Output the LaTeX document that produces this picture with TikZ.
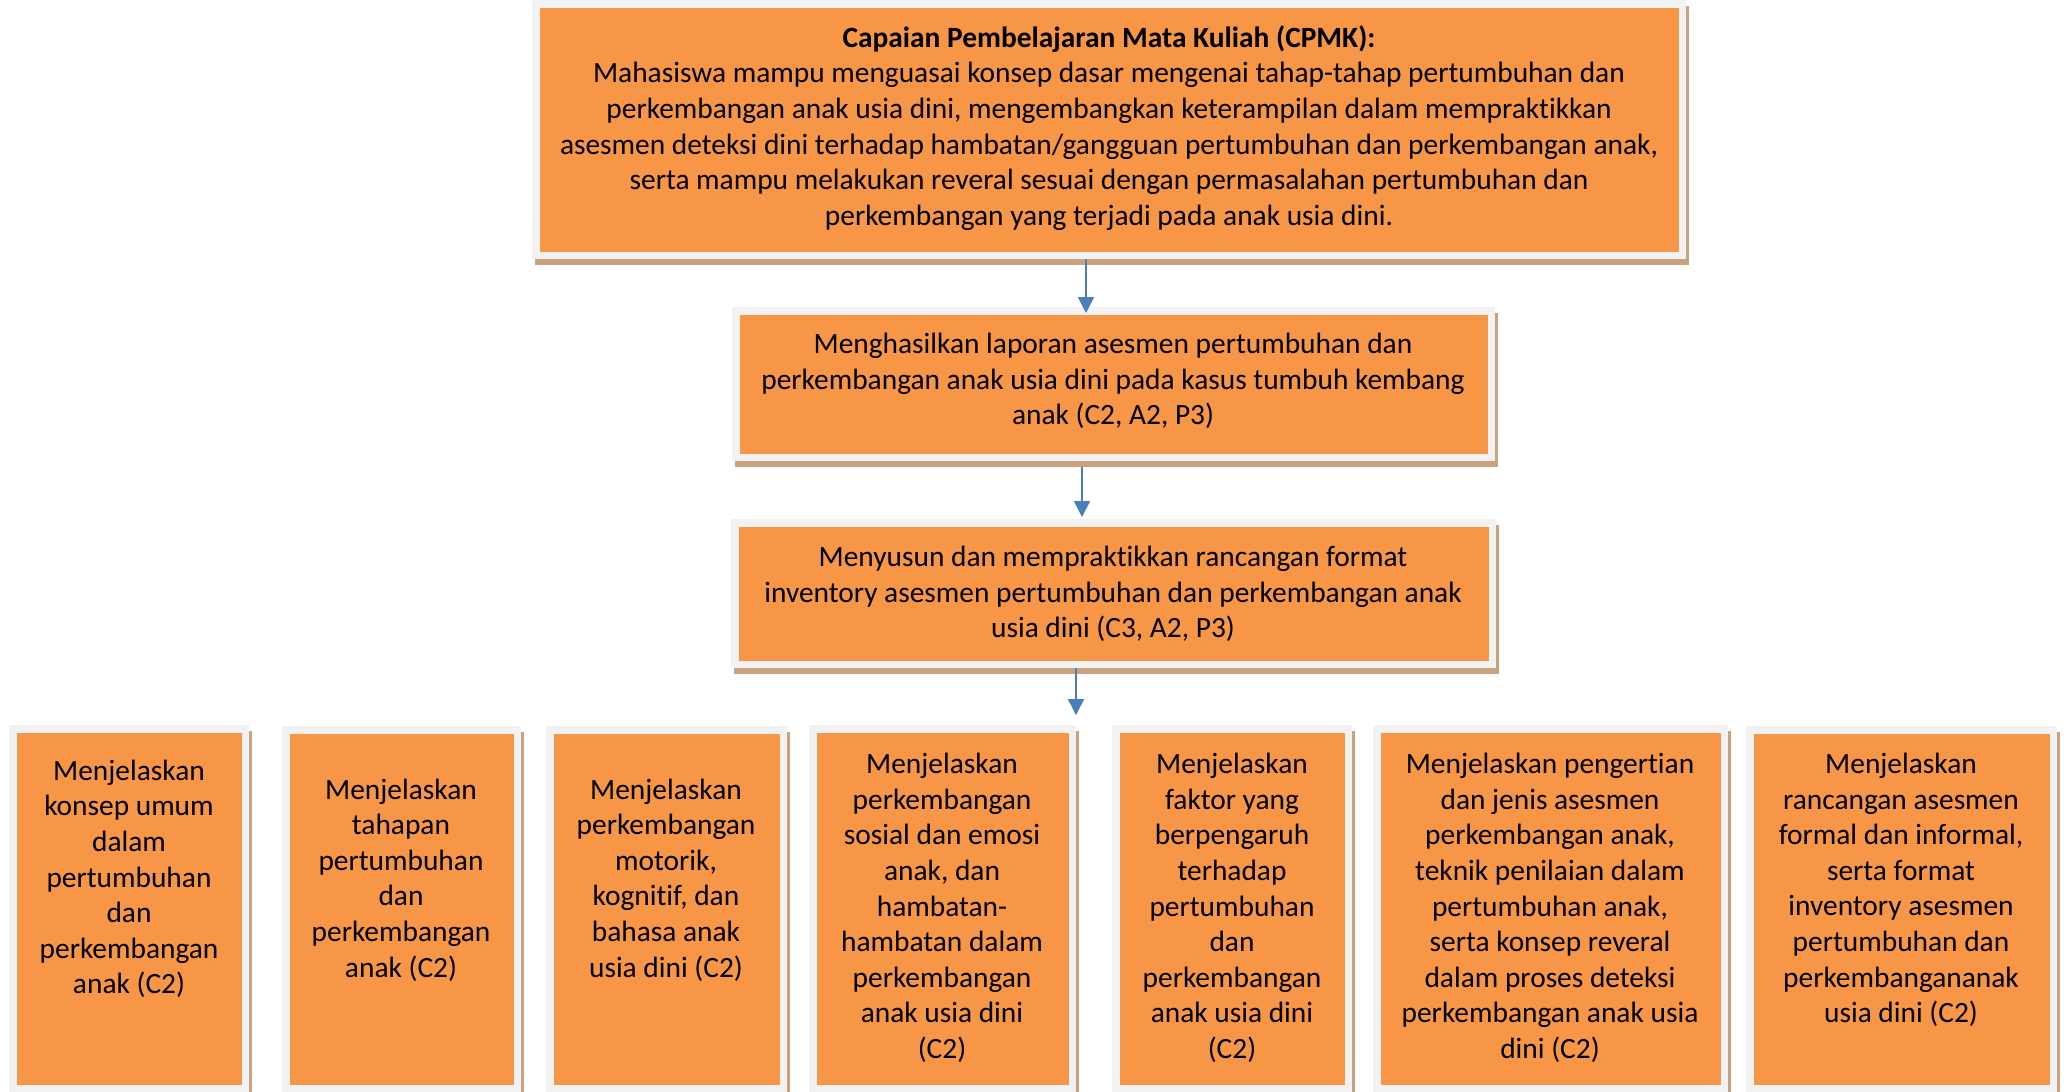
\documentclass[tikz,border=0pt]{standalone}
\usepackage{fontspec}
\setmainfont{Carlito}[RawFeature={-liga;-clig;-dlig;-calt}]
\usetikzlibrary{arrows.meta,fit,backgrounds}
\definecolor{boxorange}{HTML}{F79646}
\definecolor{framegray}{HTML}{F2F2F2}
\definecolor{shadowc}{HTML}{C9A27F}
\definecolor{arrowblue}{HTML}{4A7EBB}
\tikzset{
  cbox/.style={draw=framegray, fill=boxorange, line width=3.75pt, inner sep=-1.875pt, outer sep=1.875pt},
  txt/.style={align=center, inner sep=0pt, font=\fontsize{14.7}{17.8}\selectfont, text=black},
  arr/.style={draw=arrowblue, line width=0.75pt, -{Triangle[length=8pt,width=8pt]}},
  shad/.style={fill=shadowc}
}
\begin{document}
\begin{tikzpicture}[x=0.5pt,y=-0.5pt]
\useasboundingbox (0,0) rectangle (2067,1092);

% boxes (outer edge of grey frame given)
\node[cbox, fit={(532,0) (1686,259)}] (top) {};
\node[cbox, fit={(732,307) (1495,461)}] (mid1) {};
\node[cbox, fit={(731,519) (1496,668)}] (mid2) {};
\node[cbox, fit={(9,725) (249,1092)}] (b1) {};
\node[cbox, fit={(282,726) (521,1092)}] (b2) {};
\node[cbox, fit={(546,726) (787,1092)}] (b3) {};
\node[cbox, fit={(809,725) (1076,1092)}] (b4) {};
\node[cbox, fit={(1112,725) (1352,1092)}] (b5) {};
\node[cbox, fit={(1373,725) (1728,1092)}] (b6) {};
\node[cbox, fit={(1746,726) (2057,1092)}] (b7) {};

\begin{scope}[on background layer]
\fill[white] (0,0) rectangle (2067,1092);
\foreach \n in {top,mid1,mid2}
  \fill[shad] ([shift={(3,6)}]\n.south west) rectangle ([shift={(3,6)}]\n.north east);
\foreach \n in {b1,b2,b3,b4,b5,b6,b7}
  \fill[shad] ([shift={(3,6)}]\n.north west) rectangle ([shift={(3,0)}]\n.south east);
\end{scope}

% texts
\node[txt] (ttop) at (1109,128) {\textbf{Capaian Pembelajaran Mata Kuliah (CPMK):}\\
Mahasiswa mampu menguasai konsep dasar mengenai tahap-tahap pertumbuhan dan\\
perkembangan anak usia dini, mengembangkan keterampilan dalam mempraktikkan\\
asesmen deteksi dini terhadap hambatan/gangguan pertumbuhan dan perkembangan anak,\\
serta mampu melakukan reveral sesuai dengan permasalahan pertumbuhan dan\\
perkembangan yang terjadi pada anak usia dini.};
\node[txt] (tmid1) at (1113,381) {Menghasilkan laporan asesmen pertumbuhan dan\\
perkembangan anak usia dini pada kasus tumbuh kembang\\
anak (C2, A2, P3)};
\node[txt] (tmid2) at (1113,594) {Menyusun dan mempraktikkan rancangan format\\
inventory asesmen pertumbuhan dan perkembangan anak\\
usia dini (C3, A2, P3)};
\node[txt] (tb1) at (129,879) {Menjelaskan\\konsep umum\\dalam\\pertumbuhan\\dan\\perkembangan\\anak (C2)};
\node[txt] (tb2) at (401,880) {Menjelaskan\\tahapan\\pertumbuhan\\dan\\perkembangan\\anak (C2)};
\node[txt] (tb3) at (666,880) {Menjelaskan\\perkembangan\\motorik,\\kognitif, dan\\bahasa anak\\usia dini (C2)};
\node[txt] (tb4) at (942,908) {Menjelaskan\\perkembangan\\sosial dan emosi\\anak, dan\\hambatan-\\hambatan dalam\\perkembangan\\anak usia dini\\(C2)};
\node[txt] (tb5) at (1232,908) {Menjelaskan\\faktor yang\\berpengaruh\\terhadap\\pertumbuhan\\dan\\perkembangan\\anak usia dini\\(C2)};
\node[txt] (tb6) at (1550,908) {Menjelaskan pengertian\\dan jenis asesmen\\perkembangan anak,\\teknik penilaian dalam\\pertumbuhan anak,\\serta konsep reveral\\dalam proses deteksi\\perkembangan anak usia\\dini (C2)};
\node[txt] (tb7) at (1901,890) {Menjelaskan\\rancangan asesmen\\formal dan informal,\\serta format\\inventory asesmen\\pertumbuhan dan\\perkembangananak\\usia dini (C2)};

% arrows
\coordinate (ax1) at (1086,0);
\coordinate (ax2) at (1082,0);
\coordinate (ax3) at (1076,0);
\coordinate (a3end) at (1076,715);
\draw[arr] (top.south -| ax1) -- ([yshift=-3pt]mid1.north -| ax1);
\draw[arr] ([yshift=-3pt]mid1.south -| ax2) -- ([yshift=1pt]mid2.north -| ax2);
\draw[arr] (mid2.south -| ax3) -- (a3end);
\end{tikzpicture}
\end{document}
